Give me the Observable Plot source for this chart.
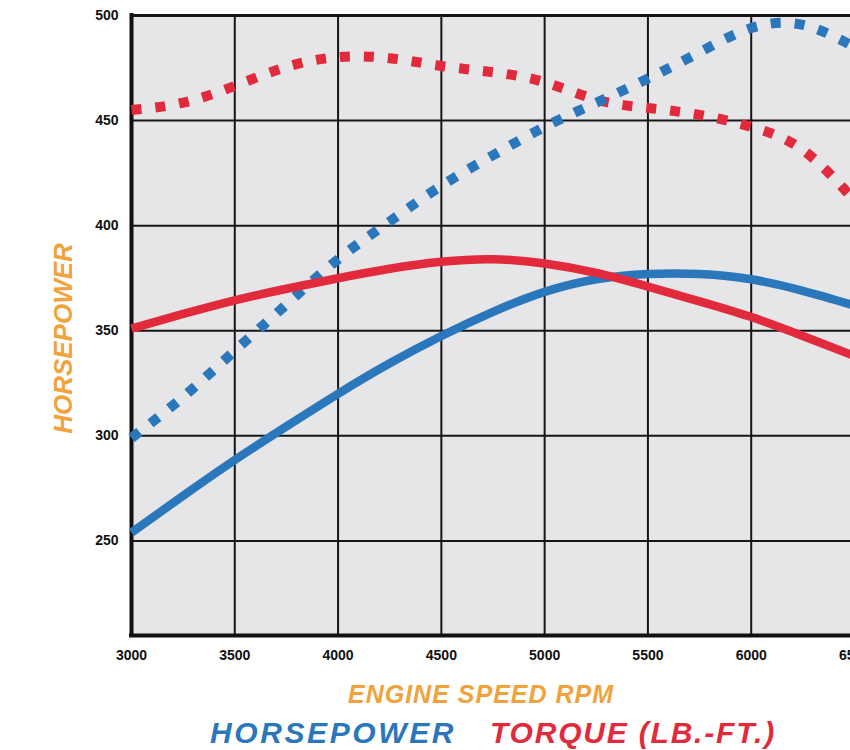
<!DOCTYPE html>
<html>
<head>
<meta charset="utf-8">
<script src="https://cdn.jsdelivr.net/npm/d3@7"></script>
<script src="https://cdn.jsdelivr.net/npm/@observablehq/plot@0.6"></script>
<style>
  html, body { margin: 0; padding: 0; background: #fff; overflow: hidden; }
  #wrap { position: relative; width: 850px; height: 750px; overflow: hidden; font-family: "Liberation Sans", Arial, sans-serif; }
  #chart svg { display: block; max-width: none !important; }
  .cap { position: absolute; font-weight: bold; font-style: italic; white-space: nowrap; line-height: 1; }
</style>
</head>
<body>
<div id="wrap">
  <div id="chart"></div>
  <div class="cap" id="xlabel" style="left:348px; top:682px; font-size:25px; letter-spacing:1px; color:#f0a23c;">ENGINE SPEED RPM</div>
  <div class="cap" style="left:210px; top:718px; font-size:30px; letter-spacing:2.6px; color:#2b77bc;">HORSEPOWER</div>
  <div class="cap" style="left:490px; top:718px; font-size:30px; letter-spacing:1.8px; color:#e12a3b;">TORQUE (LB.-FT.)</div>
</div>
<script>
// RPM sample points
const rpm = [3000, 3250, 3500, 3750, 4000, 4250, 4500, 4750, 5000, 5250, 5500, 5750, 6000, 6250, 6500];
// Solid lines
const hpSolid = [254, 271.5, 288.5, 304.5, 320, 334.5, 347.5, 359, 368.5, 374.5, 377, 377, 374.5, 369, 362];
const tqSolid = [351, 358, 364.5, 370, 375, 379.5, 382.8, 384, 382, 377.5, 371, 364, 356.5, 347.5, 338];
// Dotted lines
const hpDotted = [299, 318.5, 340.5, 362.5, 384, 402, 419, 433.5, 447, 458.5, 470, 482.5, 494, 495.5, 485];
const tqDotted = [455, 458.5, 466.5, 475.5, 480.2, 479.7, 476, 473, 468.3, 460, 456, 452.7, 447, 436, 412];
// Axis ticks
const xTicks = [3000, 3500, 4000, 4500, 5000, 5500, 6000, 6500];
const yTicks = [250, 300, 350, 400, 450, 500];
const yLabel = "HORSEPOWER";

const rows = rpm.map((r, i) => ({rpm: r, hpSolid: hpSolid[i], tqSolid: tqSolid[i], hpDotted: hpDotted[i], tqDotted: tqDotted[i]}));

const blue = "#2b77bc";
const red = "#e12a3b";
const yMin = 205;
const dotted = {strokeWidth: 10, strokeDasharray: "10 14", strokeLinecap: "butt", strokeLinejoin: "miter", curve: "natural"};
const solid = {strokeWidth: 8.5, strokeLinecap: "butt", curve: "natural"};

const chart = Plot.plot({
  width: 880,
  height: 670,
  marginLeft: 131,
  marginRight: 26,
  marginTop: 15,
  marginBottom: 35,
  style: {fontFamily: "Liberation Sans, Arial, sans-serif", background: "#fff", overflow: "visible"},
  x: {domain: [3000, 6500]},
  y: {domain: [yMin, 500]},
  marks: [
    Plot.frame({fill: "#e6e5e8", stroke: null}),
    Plot.gridX(xTicks, {stroke: "#161616", strokeOpacity: 1, strokeWidth: 2}),
    Plot.gridY(yTicks, {stroke: "#161616", strokeOpacity: 1, strokeWidth: 2}),
    Plot.ruleY([500], {stroke: "#161616", strokeWidth: 3}),
    Plot.ruleX([3000], {stroke: "#111", strokeWidth: 4, strokeLinecap: "square"}),
    Plot.ruleY([yMin], {stroke: "#111", strokeWidth: 4, strokeLinecap: "square"}),
    Plot.line(rows, {x: "rpm", y: "tqDotted", stroke: red, ...dotted}),
    Plot.line(rows, {x: "rpm", y: "hpDotted", stroke: blue, ...dotted}),
    Plot.line(rows, {x: "rpm", y: "hpSolid", stroke: blue, ...solid}),
    Plot.line(rows, {x: "rpm", y: "tqSolid", stroke: red, ...solid}),
    Plot.axisX({ticks: xTicks, tickFormat: d => String(d), tickSize: 0, tickPadding: 15, fontSize: 14, fontWeight: "bold", fill: "#111", label: null}),
    Plot.axisY({ticks: yTicks, tickFormat: d => String(d), tickSize: 0, tickPadding: 13, fontSize: 14, fontWeight: "bold", fill: "#111", label: null}),
    Plot.text([yLabel], {frameAnchor: "left", textAnchor: "middle", dx: -68, dy: 13, rotate: -90, fontSize: 26, fontWeight: "bold", fontStyle: "italic", fill: "#f0a23c", text: d => d})
  ]
});
document.getElementById("chart").appendChild(chart);
</script>
</body>
</html>
